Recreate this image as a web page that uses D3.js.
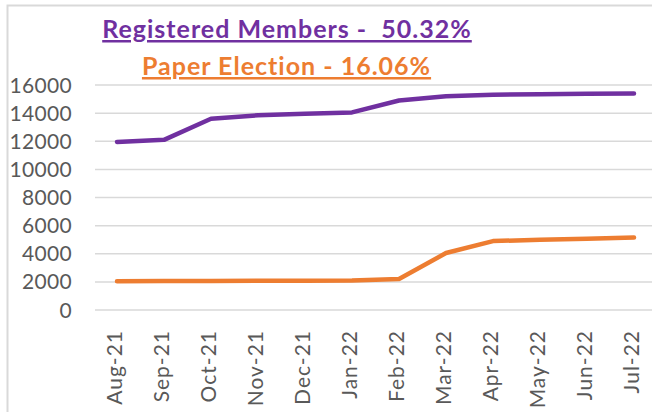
<!DOCTYPE html>
<html><head><meta charset="utf-8">
<script src="https://cdn.jsdelivr.net/npm/d3@7"></script>
<style>html,body{margin:0;padding:0;background:#fff;}svg{display:block;}</style>
</head><body>
<script>
const months = ["Aug-21","Sep-21","Oct-21","Nov-21","Dec-21","Jan-22","Feb-22","Mar-22","Apr-22","May-22","Jun-22","Jul-22"];
const registered = [11950,12100,13600,13850,13950,14050,14900,15200,15300,15350,15380,15400];
const paper = [2050,2060,2070,2080,2080,2090,2200,4050,4900,5000,5060,5150];
const yTicks = [0,2000,4000,6000,8000,10000,12000,14000,16000];
const titles = ["Registered Members -  50.32%","Paper Election - 16.06%"];

const W=652,H=414;
const svg=d3.select("body").append("svg").attr("width",W).attr("height",H);
svg.append("rect").attr("width",W).attr("height",H).attr("fill","#fff");
// border
svg.append("path").attr("d",`M7.5,${H-2} L7.5,5.5 L${W},5.5`).attr("fill","none").attr("stroke","#d9d9d9").attr("stroke-width",2);

const x=d3.scalePoint().domain(months).range([117,634]);
const y=d3.scaleLinear().domain([0,16000]).range([310,85]);

svg.append("g").selectAll("line").data(yTicks).join("line")
  .attr("x1",95).attr("x2",W).attr("y1",d=>y(d)).attr("y2",d=>y(d))
  .attr("stroke","#d9d9d9").attr("stroke-width",1.5);

svg.append("g").selectAll("text").data(yTicks).join("text")
  .attr("x",72).attr("y",d=>y(d)).attr("dy","0.36em").attr("text-anchor","end")
  .attr("font-family","Lato, 'Open Sans', sans-serif").attr("font-size",21).attr("letter-spacing",0.3).attr("fill","#595959")
  .text(d=>d);

svg.append("g").selectAll("text").data(months).join("text")
  .attr("transform",d=>`translate(${x(d)-3},330) rotate(-90)`)
  .attr("dy","0.36em").attr("text-anchor","end")
  .attr("font-family","Lato, 'Open Sans', sans-serif").attr("font-size",21).attr("letter-spacing",1).attr("fill","#595959")
  .text(d=>d);

const line=d3.line().x((d,i)=>x(months[i])).y(d=>y(d));
svg.append("path").datum(paper).attr("d",line).attr("fill","none").attr("stroke","#ED7D31")
  .attr("stroke-width",4.5).attr("stroke-linecap","round").attr("stroke-linejoin","round");
svg.append("path").datum(registered).attr("d",line).attr("fill","none").attr("stroke","#7030A0")
  .attr("stroke-width",4.5).attr("stroke-linecap","round").attr("stroke-linejoin","round");

const tcol=["#7030A0","#ED7D31"];
const ty=[38,75];
const tx=[287,286.5];
titles.forEach((t,i)=>{
  svg.append("text").attr("x",tx[i]).attr("y",ty[i]).attr("text-anchor","middle")
    .attr("font-family","Lato, sans-serif").attr("font-weight","bold").attr("font-size",25)
    .attr("letter-spacing",1)
    .attr("fill",tcol[i]).attr("text-decoration","underline").style("white-space","pre")
    .attr("xml:space","preserve").text(t);
});
</script>
</body></html>
